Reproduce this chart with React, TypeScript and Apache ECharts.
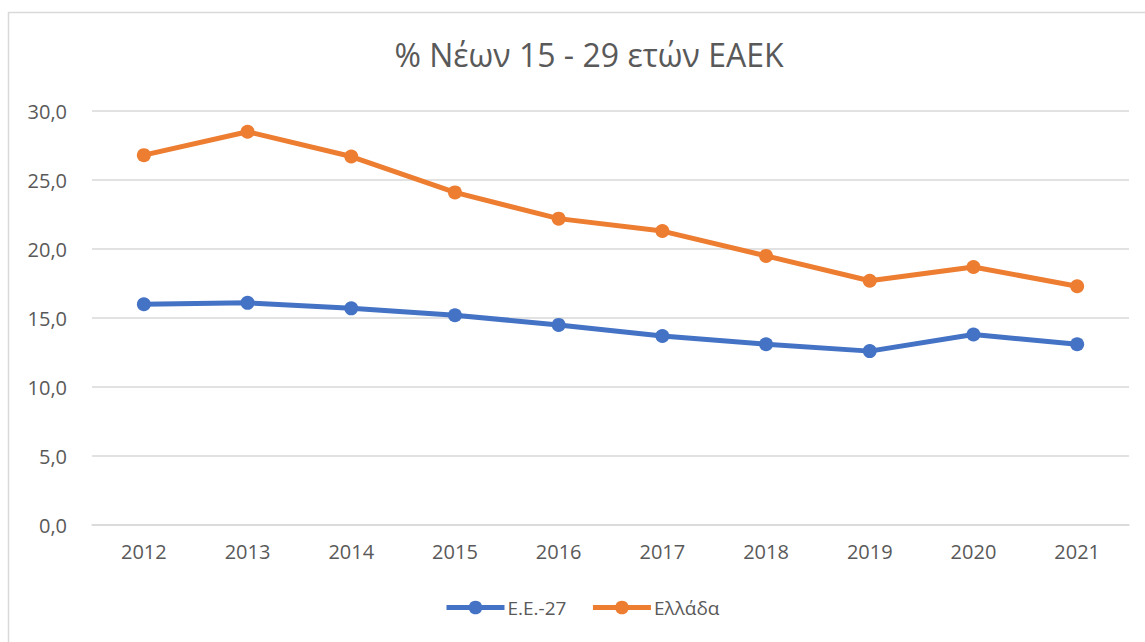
import React, { useEffect, useRef } from "react";
import * as echarts from "echarts";

const categories = ["2012", "2013", "2014", "2015", "2016", "2017", "2018", "2019", "2020", "2021"];
const euValues = [16.0, 16.1, 15.7, 15.2, 14.5, 13.7, 13.1, 12.6, 13.8, 13.1];
const grValues = [26.8, 28.5, 26.7, 24.1, 22.2, 21.3, 19.5, 17.7, 18.7, 17.3];
const seriesNames = ["Ε.Ε.-27", "Ελλάδα"];
const titleText = "% Νέων 15 - 29 ετών ΕΑΕΚ";

const FONT = "'Open Sans', 'Noto Sans', sans-serif";
const TXT = "#595959";

export default function App() {
  const ref = useRef<HTMLDivElement>(null);
  useEffect(() => {
    if (!ref.current) return;
    const chart = echarts.init(ref.current, undefined, { renderer: "svg" });
    chart.setOption({
      animation: false,
      backgroundColor: "#ffffff",
      textStyle: { fontFamily: FONT },
      title: {
        text: titleText,
        left: 584,
        textAlign: "center",
        top: 33,
        textStyle: { fontFamily: FONT, fontSize: 32, fontWeight: "normal", color: TXT },
      },
      graphic: [
        {
          type: "rect",
          shape: { x: 8.5, y: 12.5, width: 1200, height: 700 },
          style: { fill: "none", stroke: "#d9d9d9", lineWidth: 1.5 },
          silent: true,
        },
      ],
      legend: {
        bottom: 20,
        left: 439,
        itemWidth: 58,
        itemHeight: 17,
        itemGap: 24,
        lineStyle: { width: 5 },
        textStyle: { fontFamily: FONT, fontSize: 19, color: TXT, padding: [0, 0, 0, -2] },
        data: seriesNames,
      },
      grid: { left: 92, right: 16, top: 111, bottom: 117, containLabel: false },
      xAxis: {
        type: "category",
        data: categories,
        boundaryGap: true,
        axisLine: { show: true, lineStyle: { color: "#d9d9d9", width: 1.5 } },
        axisTick: { show: false },
        axisLabel: { color: TXT, fontSize: 20, fontFamily: FONT, margin: 16 },
      },
      yAxis: {
        type: "value",
        min: 0,
        max: 30,
        interval: 5,
        axisLine: { show: false },
        axisTick: { show: false },
        splitLine: { lineStyle: { color: "#d9d9d9", width: 1.5 } },
        axisLabel: {
          color: TXT,
          fontSize: 20,
          fontFamily: FONT,
          margin: 25,
          formatter: (v: number) => v.toFixed(1).replace(".", ","),
        },
      },
      series: [
        {
          name: seriesNames[0],
          type: "line",
          data: euValues,
          color: "#4472C4",
          symbol: "circle",
          symbolSize: 14,
          lineStyle: { width: 5, color: "#4472C4" },
          itemStyle: { color: "#4472C4" },
        },
        {
          name: seriesNames[1],
          type: "line",
          data: grValues,
          color: "#ED7D31",
          symbol: "circle",
          symbolSize: 14,
          lineStyle: { width: 5, color: "#ED7D31" },
          itemStyle: { color: "#ED7D31" },
        },
      ],
    });
    return () => chart.dispose();
  }, []);
  return (
    <div
      ref={ref}
      style={{ position: "fixed", left: 0, top: 0, width: 1145, height: 642 }}
    />
  );
}
